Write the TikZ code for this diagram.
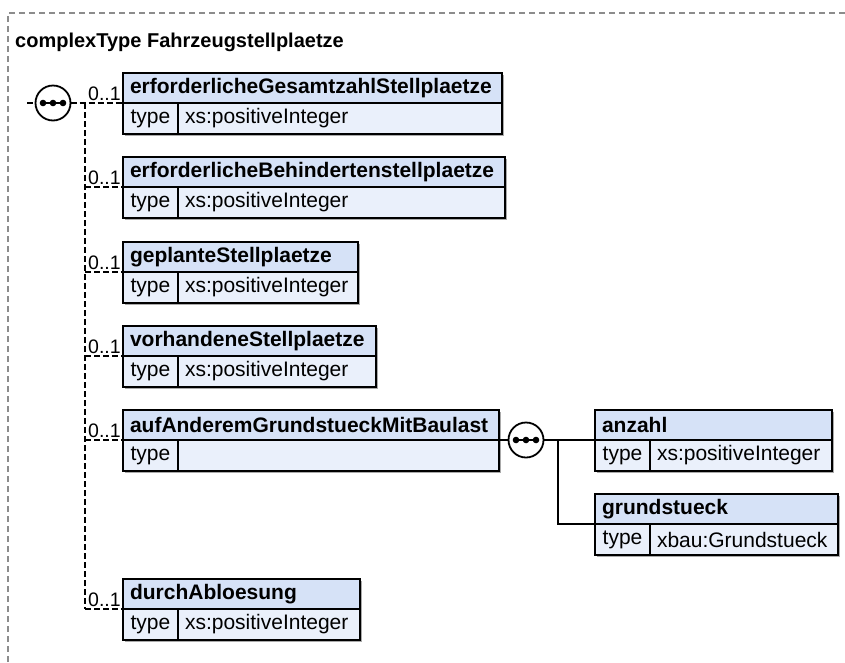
\documentclass[tikz,border=0pt]{standalone}
\usepackage{fontspec}
\setmainfont{Liberation Sans}
\usetikzlibrary{calc}
\definecolor{hdrfill}{RGB}{214,226,247}
\definecolor{typfill}{RGB}{234,240,251}
\definecolor{framec}{RGB}{140,140,140}
\definecolor{shadowc}{RGB}{170,170,170}
\tikzset{
  boxline/.style={draw=black, line width=1.8pt},
  hdr/.style={boxline, fill=hdrfill, rectangle, outer sep=0pt, inner xsep=7pt, inner ysep=0pt,
     minimum height=30pt, align=left, font=\fontsize{21}{24}\selectfont\bfseries},
  typl/.style={boxline, fill=typfill, rectangle, outer sep=0pt, inner sep=0pt,
     minimum height=31pt, minimum width=55pt, font=\fontsize{21}{24}\selectfont},
  typv/.style={boxline, fill=typfill, rectangle, outer sep=0pt, inner xsep=7pt, inner ysep=0pt,
     minimum height=31pt, align=left, font=\fontsize{21}{24}\selectfont},
  optline/.style={line width=1.6pt, dash pattern=on 6pt off 3pt},
  reqline/.style={line width=1.6pt},
  card/.style={inner sep=0pt, font=\fontsize{19.5}{22}\selectfont},
  compo/.style={circle, draw=black, line width=1.8pt, fill=white, minimum size=35pt, inner sep=0pt, outer sep=0pt},
}
\newcommand\elem[6]{%
  \pgfmathsetmacro\hdrtw{#4-14}%
  \pgfmathsetmacro\valtw{#4-55-14}%
  \fill[shadowc] (#2+2,#3+2) rectangle ++(#4,61);
  \node[hdr, text width=\hdrtw pt, anchor=north west] (#1) at (#2,#3) {#5};
  \node[typl, anchor=north west] (#1t) at (#1.south west) {type};
  \node[typv, text width=\valtw pt, anchor=north west] (#1v) at (#1t.north east) {#6};
}
\newcommand\compositor[3]{%
  \node[compo] (#1) at (#2,#3) {};
  \draw[line width=1.8pt] ($(#1.center)+(-10,0)$) -- ($(#1.center)+(10,0)$);
  \foreach \dx in {-10,0,10} \fill ($(#1.center)+(\dx,0)$) circle (3.3pt);
}
\begin{document}
\begin{tikzpicture}[x=1pt,y=-1pt]
\useasboundingbox (0,0) rectangle (845,662);
% outer frame
\draw[framec, line width=1.3pt, dash pattern=on 6pt off 4pt] (8,662) -- (8,13) -- (845,13);
\node[anchor=base west, inner sep=0pt, font=\fontsize{20}{24}\selectfont\bfseries] (title) at (15,47) {complexType Fahrzeugstellplaetze};

% elements
\elem{e1}{123}{73}{379}{erforderlicheGesamtzahlStellplaetze}{xs:positiveInteger}
\elem{e2}{123}{157}{382}{erforderlicheBehindertenstellplaetze}{xs:positiveInteger}
\elem{e3}{123}{242}{235}{geplanteStellplaetze}{xs:positiveInteger}
\elem{e4}{123}{326}{253}{vorhandeneStellplaetze}{xs:positiveInteger}
\elem{e5}{123}{410}{376}{aufAnderemGrundstueckMitBaulast}{}
\elem{e6}{123}{579}{237}{durchAbloesung}{xs:positiveInteger}
\elem{an}{595}{410}{237}{anzahl}{xs:positiveInteger}
\elem{gr}{595}{494}{243}{grundstueck}{xbau:Grundstueck}

% first sequence
\coordinate (in0) at (27,103);
\coordinate (trunk1) at (85,103);
\draw[optline] (in0) -- (35.5,103);
\compositor{c1}{53}{103}
\draw[optline] (c1.east) -- (e1.south west);
\draw[optline] (trunk1) -- (trunk1 |- e6.south west);
\foreach \e in {e2,e3,e4,e5,e6}
  \draw[optline] (trunk1 |- \e.south west) -- (\e.south west);
\foreach \e in {e1,e2,e3,e4,e5,e6}
  \node[card, anchor=base west] (card\e) at ($(\e.south west)+(-35,-3)$) {0..1};

% second sequence
\compositor{c2}{526}{440}
\coordinate (trunk2) at (558,440);
\draw[reqline] (e5.south east) -- (c2.west);
\draw[reqline] (c2.east) -- (an.south west);
\draw[reqline] (trunk2) |- (gr.south west);
\end{tikzpicture}
\end{document}
